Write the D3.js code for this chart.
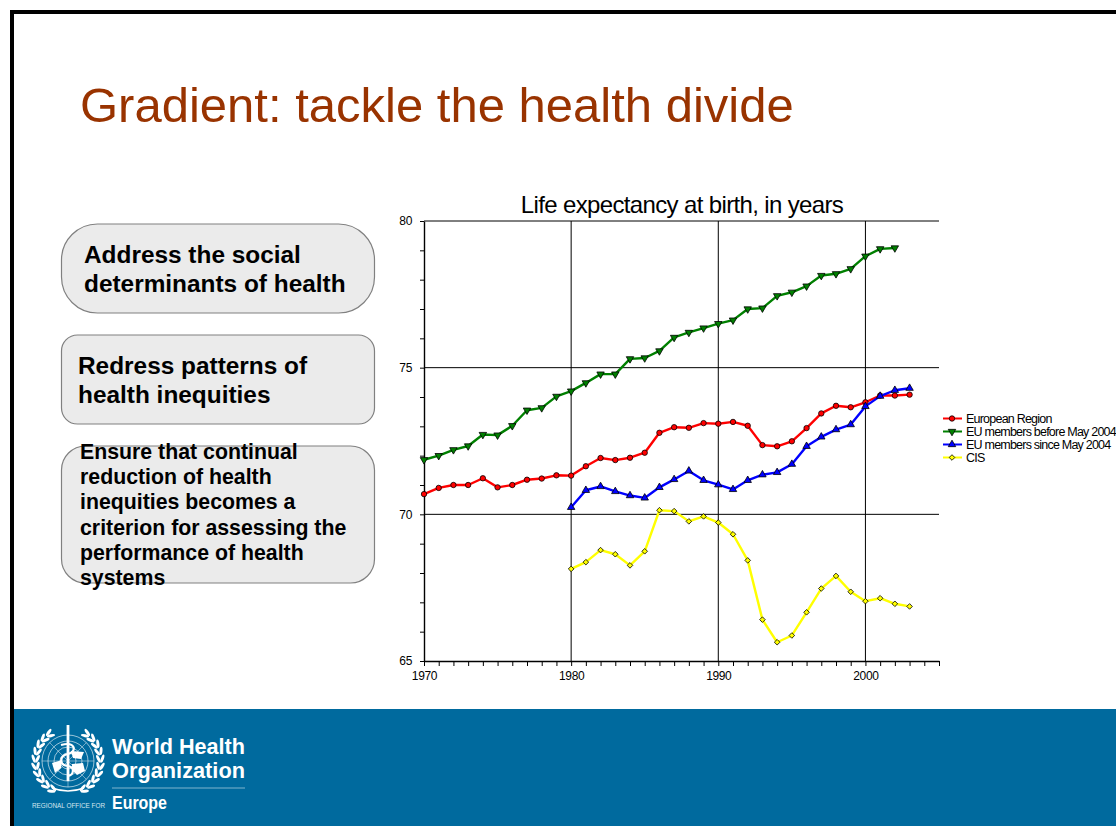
<!DOCTYPE html>
<html>
<head>
<meta charset="utf-8">
<title>Gradient: tackle the health divide</title>
<script src="https://d3js.org/d3.v7.min.js"></script>
<style>
  body { margin: 0; background: #fff; }
  svg { display: block; }
  text { font-family: "Liberation Sans", Arial, sans-serif; }
</style>
</head>
<body>
<svg id="slide" width="1116" height="826"></svg>
<script>
// data
const years = d3.range(1970, 2004);
const yearsFrom1980 = d3.range(1980, 2004);
const yearsTo2002 = d3.range(1970, 2003);

const europeanRegion = [70.69, 70.9, 71.0, 71.0, 71.23, 70.92, 71.0, 71.18, 71.22, 71.33,
  71.32, 71.64, 71.92, 71.85, 71.93, 72.1, 72.78, 72.97, 72.95, 73.11,
  73.09, 73.15, 73.02, 72.36, 72.32, 72.49, 72.94, 73.44, 73.7, 73.65,
  73.82, 74.05, 74.05, 74.08];
const euBefore = [71.86, 72.0, 72.2, 72.33, 72.72, 72.7, 73.02, 73.55, 73.63, 74.02,
  74.2, 74.48, 74.78, 74.78, 75.3, 75.33, 75.57, 76.03, 76.2, 76.35,
  76.5, 76.62, 77.0, 77.03, 77.45, 77.57, 77.78, 78.14, 78.2, 78.37,
  78.8, 79.05, 79.08];
const euSince = [70.24, 70.82, 70.95, 70.78, 70.64, 70.56, 70.92, 71.19, 71.48, 71.16,
  71.01, 70.85, 71.16, 71.35, 71.43, 71.71, 72.32, 72.64, 72.89, 73.06,
  73.68, 74.03, 74.23, 74.3];
const cis = [68.14, 68.37, 68.78, 68.64, 68.26, 68.74, 70.14, 70.11, 69.76, 69.93,
  69.72, 69.32, 68.43, 66.41, 65.64, 65.87, 66.66, 67.47, 67.9, 67.36,
  67.04, 67.14, 66.95, 66.86];

const xMajor = [1970, 1980, 1990, 2000];
const yMajor = [65, 70, 75, 80];
const legendNames = ["European Region", "EU members before May 2004", "EU members since May 2004", "CIS"];

const boxLines = [
  ["Address the social", "determinants of health"],
  ["Redress patterns of", "health inequities"],
  ["Ensure that continual", "reduction of health", "inequities becomes a", "criterion for assessing the", "performance of health", "systems"]
];

const svg = d3.select("#slide");

// slide frame and footer
svg.append("rect").attr("x", 10).attr("y", 10).attr("width", 1106).attr("height", 4).attr("fill", "#000");
svg.append("rect").attr("x", 10).attr("y", 10).attr("width", 4).attr("height", 816).attr("fill", "#000");
svg.append("rect").attr("x", 14).attr("y", 709).attr("width", 1102).attr("height", 117).attr("fill", "#006a9e");

svg.append("text").attr("x", 80).attr("y", 122)
  .attr("font-size", 49).attr("fill", "#993300")
  .text("Gradient: tackle the health divide");

// rounded boxes on the left
const boxes = [
  { y: 224, h: 89, r: 36, tx: 84, ty: 263, lh: 28.5, fs: 24.4 },
  { y: 335, h: 89, r: 16, tx: 78, ty: 374, lh: 29, fs: 24.4 },
  { y: 446, h: 137, r: 24, tx: 80, ty: 459, lh: 25.2, fs: 21.3 }
];
boxes.forEach((b, i) => {
  svg.append("rect").attr("x", 61.5).attr("y", b.y).attr("width", 313).attr("height", b.h)
    .attr("rx", b.r).attr("fill", "#ebebeb").attr("stroke", "#808080").attr("stroke-width", 1.2);
  boxLines[i].forEach((t, j) => {
    svg.append("text").attr("x", b.tx).attr("y", b.ty + j * b.lh)
      .attr("font-size", b.fs).attr("font-weight", "bold").attr("fill", "#000").text(t);
  });
});

// chart
const x = d3.scaleLinear().domain([1970, 2005]).range([424, 939]);
const y = d3.scaleLinear().domain([65, 80]).range([661, 221]);

const chart = svg.append("g");

chart.append("text").attr("x", 682).attr("y", 213).attr("text-anchor", "middle")
  .attr("font-size", 24).attr("letter-spacing", -0.64).attr("fill", "#000")
  .text("Life expectancy at birth, in years");

// grid lines
chart.selectAll(".vgrid").data(xMajor.slice(1)).enter().append("line")
  .attr("x1", d => x(d)).attr("x2", d => x(d)).attr("y1", y(80)).attr("y2", y(65))
  .attr("stroke", "#000").attr("stroke-width", 1);
chart.selectAll(".hgrid").data(yMajor.slice(1)).enter().append("line")
  .attr("x1", x(1970)).attr("x2", x(2005)).attr("y1", d => y(d)).attr("y2", d => y(d))
  .attr("stroke", "#000").attr("stroke-width", 1);

const xAxis = d3.axisBottom(x).tickValues(d3.range(1970, 2006)).tickSize(5).tickSizeOuter(0).tickPadding(5)
  .tickFormat(d => xMajor.includes(d) ? d : "");
const yAxis = d3.axisLeft(y).tickValues(d3.range(65, 80.5, 1)).tickSize(4).tickSizeOuter(0).tickPadding(8)
  .tickFormat(d => yMajor.includes(d) ? d : "");

const gx = chart.append("g").attr("transform", `translate(0,${y(65)})`).call(xAxis);
const gy = chart.append("g").attr("transform", `translate(${x(1970)},0)`).call(yAxis);
[gx, gy].forEach(g => {
  g.selectAll("path,line").attr("stroke", "#000");
  g.select(".domain").attr("stroke-width", 1.4);
  g.selectAll("text").attr("font-size", 12).attr("letter-spacing", -0.35)
    .attr("font-family", '"Liberation Sans", Arial, sans-serif').attr("fill", "#000");
});

// markers
const tri = d3.symbol().type(d3.symbolTriangle).size(24);
const markers = {
  circle: s => s.append("circle").attr("r", 2.7),
  down: s => s.append("path").attr("d", tri()).attr("transform", "rotate(180)"),
  up: s => s.append("path").attr("d", tri()),
  diamond: s => s.append("path").attr("d", d3.symbol().type(d3.symbolDiamond2).size(20)())
};

const series = [
  { xs: years, ys: europeanRegion, color: "#ff0000", marker: "circle" },
  { xs: yearsTo2002, ys: euBefore, color: "#008000", marker: "down" },
  { xs: yearsFrom1980, ys: euSince, color: "#0000ff", marker: "up" },
  { xs: yearsFrom1980, ys: cis, color: "#ffff00", marker: "diamond" }
];

const line = d3.line().x(d => x(d[0])).y(d => y(d[1]));

series.forEach(s => {
  const pts = s.xs.map((yr, i) => [yr, s.ys[i]]);
  chart.append("path").datum(pts).attr("d", line)
    .attr("fill", "none").attr("stroke", s.color).attr("stroke-width", 2.4)
    .attr("stroke-linejoin", "round");
  const g = chart.selectAll(null).data(pts).enter().append("g")
    .attr("transform", d => `translate(${x(d[0])},${y(d[1])})`);
  markers[s.marker](g).attr("fill", s.color).attr("stroke", "#000").attr("stroke-width", 0.8);
});

// legend
const legend = svg.append("g");
series.forEach((s, i) => {
  const ly = 418.5 + i * 13;
  legend.append("line").attr("x1", 943).attr("x2", 962).attr("y1", ly).attr("y2", ly)
    .attr("stroke", s.color).attr("stroke-width", 2);
  const g = legend.append("g").attr("transform", `translate(952,${ly})`);
  markers[s.marker](g).attr("fill", s.color).attr("stroke", "#000").attr("stroke-width", 0.8);
  legend.append("text").attr("x", 966).attr("y", ly + 4).attr("font-size", 12.5)
    .attr("letter-spacing", -0.78).attr("fill", "#000").text(legendNames[i]);
});

// WHO emblem, drawn roughly
const logo = svg.append("g").attr("transform", "translate(68,761)")
  .attr("fill", "none").attr("stroke", "#fff");
[26, 20, 14, 8].forEach(r => logo.append("circle").attr("r", r).attr("stroke-width", 0.8).attr("stroke-opacity", 0.75));
d3.range(0, 180, 45).forEach(a => logo.append("line").attr("y1", -26).attr("y2", 26)
  .attr("transform", `rotate(${a})`).attr("stroke-width", 0.6).attr("stroke-opacity", 0.7));
["M-16,2 L-6,-1 L-7,7 L-13,12 Z", "M3,-10 L16,-9 L13,-2 L5,-3 Z", "M4,3 L15,2 L17,10 L9,14 L4,9 Z"].forEach(d =>
  logo.append("path").attr("d", d).attr("fill", "#fff").attr("stroke", "none"));
logo.append("line").attr("y1", -36).attr("y2", 20).attr("stroke-width", 2.8);
logo.append("path").attr("d", "M-7,-16 C8,-20 9,-9 0,-7 C-9,-5 -9,4 0,5 C7,6 6,14 0,15").attr("stroke-width", 2.2);
[-1, 1].forEach(side => {
  d3.range(-56, 66, 13).forEach(t => {
    const a = t * Math.PI / 180;
    [[30.5, -22], [34.5, 22]].forEach(([r, splay]) => {
      const cx = side * r * Math.cos(a), cy = r * Math.sin(a);
      logo.append("ellipse").attr("cx", cx).attr("cy", cy).attr("rx", 1.5).attr("ry", 4.2)
        .attr("fill", "#fff").attr("stroke", "none")
        .attr("transform", `rotate(${side * (t + splay)},${cx},${cy})`);
    });
  });
});
logo.append("path").attr("d", "M-16,27 Q0,33 16,27").attr("stroke-width", 1.6);

const logoFont = '"Open Sans", "Noto Sans", sans-serif';
svg.append("text").attr("x", 112).attr("y", 754).attr("font-size", 21.5).attr("font-family", logoFont)
  .attr("font-weight", 600).attr("fill", "#fff").attr("textLength", 133).attr("lengthAdjust", "spacingAndGlyphs").text("World Health");
svg.append("text").attr("x", 112).attr("y", 778).attr("font-size", 21.5).attr("font-family", logoFont)
  .attr("font-weight", 600).attr("fill", "#fff").attr("textLength", 133).attr("lengthAdjust", "spacingAndGlyphs").text("Organization");
svg.append("line").attr("x1", 112).attr("x2", 245).attr("y1", 788).attr("y2", 788).attr("stroke", "#7fb4ce").attr("stroke-width", 1);
svg.append("text").attr("x", 32).attr("y", 808).attr("font-size", 7).attr("fill", "#d5e6ef")
  .attr("textLength", 73).attr("lengthAdjust", "spacingAndGlyphs").text("REGIONAL OFFICE FOR");
svg.append("text").attr("x", 112).attr("y", 809).attr("font-size", 18).attr("font-family", logoFont)
  .attr("font-weight", "bold").attr("fill", "#fff").attr("textLength", 55).attr("lengthAdjust", "spacingAndGlyphs").text("Europe");
</script>
</body>
</html>
